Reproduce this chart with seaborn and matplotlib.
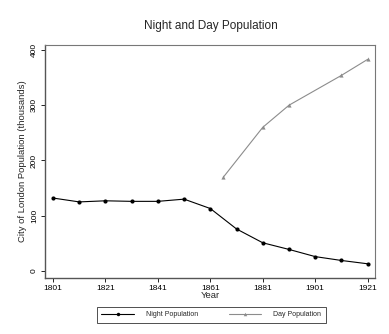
import matplotlib
matplotlib.use("Agg")
import matplotlib.pyplot as plt
import seaborn as sns
import pandas as pd

night_years = [1801, 1811, 1821, 1831, 1841, 1851, 1861, 1871, 1881, 1891, 1901, 1911, 1921]
night_pop = [132, 125, 127, 126, 126, 130, 113, 76, 51, 39, 26, 19, 13]
day_years = [1866, 1881, 1891, 1911, 1921]
day_pop = [170, 260, 300, 354, 383]
x_ticks = [1801, 1821, 1841, 1861, 1881, 1901, 1921]
y_ticks = [0, 100, 200, 300, 400]

sns.set_style("white")
plt.rcParams['font.family'] = ['Liberation Sans', 'DejaVu Sans']

df = pd.concat([
    pd.DataFrame({"Year": night_years, "Pop": night_pop, "Series": "Night Population"}),
    pd.DataFrame({"Year": day_years, "Pop": day_pop, "Series": "Day Population"}),
])

fig = plt.figure(figsize=(3.89, 3.34), dpi=100)
ax = fig.add_axes([0.1157, 0.1677, 0.8483, 0.6976])

sns.lineplot(data=df, x="Year", y="Pop", hue="Series", style="Series",
             palette={"Night Population": "#000000", "Day Population": "#8c8c8c"},
             markers={"Night Population": "o", "Day Population": "^"},
             dashes=False, linewidth=0.8, markersize=3, markeredgewidth=0,
             ax=ax, legend=False)

ax.set_xlim(1797.95, 1923.8)
ax.set_ylim(-12.7, 409)
ax.set_xticks(x_ticks)
ax.set_yticks(y_ticks)
ax.set_xticklabels([str(t) for t in x_ticks], fontsize=6)
ax.set_yticklabels([str(t) for t in y_ticks], fontsize=6, rotation=90, va='center')
ax.tick_params(axis='both', direction='out', length=3, width=0.6, pad=2,
               bottom=True, left=True, colors='black')
ax.set_xlabel("Year", fontsize=6.8, labelpad=-1)
ax.set_ylabel("City of London Population (thousands)", fontsize=6.8, labelpad=3)

for side in ['top', 'right']:
    ax.spines[side].set_color('#777777')
    ax.spines[side].set_linewidth(0.8)
for side in ['left', 'bottom']:
    ax.spines[side].set_color('#555555')
    ax.spines[side].set_linewidth(1.0)

fig.suptitle("Night and Day Population", x=0.542, y=0.94, fontsize=8.5)

from matplotlib.lines import Line2D
handles = [
    Line2D([], [], color='#000000', marker='o', markersize=2.5, linewidth=0.8, markeredgewidth=0),
    Line2D([], [], color='#8c8c8c', marker='^', markersize=2.5, linewidth=0.8, markeredgewidth=0),
]
leg = fig.legend(handles, ["Night Population", "Day Population"], loc='center',
                 bbox_to_anchor=(0.543, 0.057), ncol=2, fontsize=5, frameon=True,
                 fancybox=False, edgecolor='black', handlelength=4.7,
                 handletextpad=1.7, columnspacing=4.4, numpoints=1,
                 borderpad=0.7, borderaxespad=0)
leg.get_frame().set_linewidth(0.6)

fig.savefig("out.png", dpi=100)
